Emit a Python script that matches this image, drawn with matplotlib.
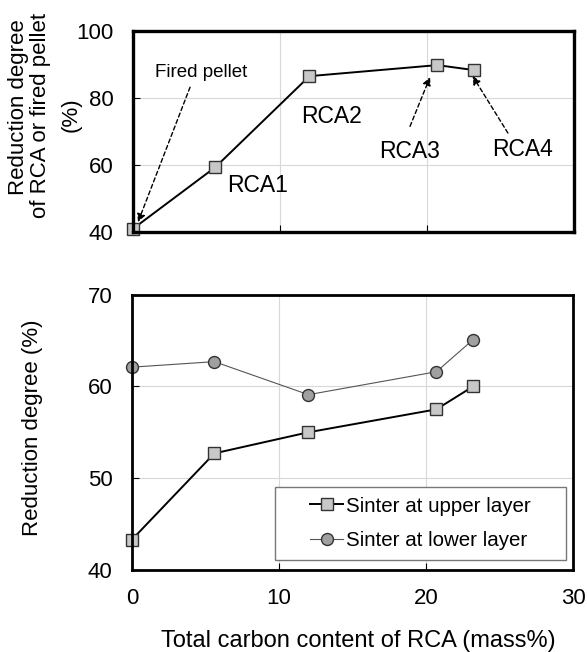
import numpy as np
import matplotlib
matplotlib.use('Agg')
import matplotlib.pyplot as plt
from matplotlib.patches import Rectangle

plt.rcParams['font.family'] = ['Liberation Sans', 'DejaVu Sans']

# Data.
carbon = [0, 5.6, 12.0, 20.7, 23.2]
rca_reduction = [41.0, 59.4, 86.6, 89.9, 88.4]
upper_layer = [43.3, 52.7, 55.0, 57.5, 60.0]
lower_layer = [62.1, 62.7, 59.1, 61.6, 65.1]
rca_names = ['RCA1', 'RCA2', 'RCA3', 'RCA4']
top_ylabel = ['Reduction degree', 'of RCA or fired pellet', '(%)']

fig = plt.figure(figsize=(5.87, 6.52), dpi=100)
ax1 = fig.add_axes([0.2266, 0.644, 0.7514, 0.308])
ax2 = fig.add_axes([0.2249, 0.126, 0.7514, 0.422])

sq = dict(marker='s', markersize=8, markerfacecolor='#c8c8c8',
          markeredgecolor='#333333', markeredgewidth=1.0)

# Top panel: reduction of RCA / fired pellet.
ax1.plot(carbon, rca_reduction, color='black', lw=1.4, clip_on=False, **sq)
ax1.set_xlim(0, 30)
ax1.set_ylim(40, 100)
ax1.set_yticks([40, 60, 80, 100])
ax1.set_xticks([0, 10, 20, 30])
ax1.set_xticklabels([])
# three-line y label, one text per line
for txt, x, y in zip(top_ylabel, [-0.26, -0.209, -0.141], [0.622, 0.58, 0.585]):
    ax1.text(x, y, txt, transform=ax1.transAxes, rotation=90, fontsize=16,
             ha='center', va='center')
for s in ax1.spines.values():
    s.set_linewidth(2.4)

arrow = dict(arrowstyle='-|>', linestyle=(0, (3, 2)), color='black', lw=1.0,
             mutation_scale=12, shrinkA=0, shrinkB=0)
ax1.annotate('', xy=(0.34, 43.0), xytext=(3.88, 83.3), arrowprops=arrow)
ax1.text(4.6, 87.8, 'Fired pellet', fontsize=13.5, ha='center', va='center')
ax1.text(8.5, 54.0, rca_names[0], fontsize=16.5, ha='center', va='center')
ax1.text(13.5, 74.6, rca_names[1], fontsize=16.5, ha='center', va='center')
ax1.annotate('', xy=(20.2, 86.3), xytext=(18.84, 71.6), arrowprops=arrow)
ax1.text(18.8, 64.0, rca_names[2], fontsize=16.5, ha='center', va='center')
ax1.annotate('', xy=(23.1, 86.6), xytext=(25.5, 69.6), arrowprops=arrow)
ax1.text(26.5, 64.6, rca_names[3], fontsize=16.5, ha='center', va='center')

# Bottom panel: sinter reduction degree.
ax2.plot(carbon, upper_layer, color='black', lw=1.4, clip_on=False,
         label='Sinter at upper layer', **sq)
ax2.plot(carbon, lower_layer, color='#555555', lw=0.8, clip_on=False,
         marker='o', markersize=8.6, markerfacecolor='#a0a0a0',
         markeredgecolor='#333333', markeredgewidth=1.0,
         label='Sinter at lower layer')
ax2.set_xlim(0, 30)
ax2.set_ylim(40, 70)
ax2.set_xticks([0, 10, 20, 30])
ax2.set_yticks([40, 50, 60, 70])
ax2.set_ylabel('Reduction degree (%)', fontsize=16)
ax2.yaxis.set_label_coords(-0.202, 0.516)
ax2.set_xlabel('Total carbon content of RCA (mass%)', fontsize=17)
ax2.xaxis.set_label_coords(0.512, -0.217)
for s in ax2.spines.values():
    s.set_linewidth(2.0)

# Legend: frame drawn wider than its content, content centred in it.
ax2.add_patch(Rectangle((0.324, 0.036), 0.66, 0.266, transform=ax2.transAxes,
                        facecolor='white', edgecolor='#777777', lw=1.0,
                        zorder=4))
leg = ax2.legend(loc='center', bbox_to_anchor=(0.654, 0.169), fontsize=14.8,
                 frameon=False, handlelength=1.6, handletextpad=0.15,
                 labelspacing=0.75, borderpad=0)
leg.set_zorder(5)

for ax in (ax1, ax2):
    ax.grid(True, color='#d8d8d8', lw=0.8)
    ax.set_axisbelow(True)
    ax.tick_params(direction='in', length=5, labelsize=16)
    ax.tick_params(axis='x', pad=13)
    ax.tick_params(axis='y', pad=14)

fig.savefig('out.png', dpi=100)
